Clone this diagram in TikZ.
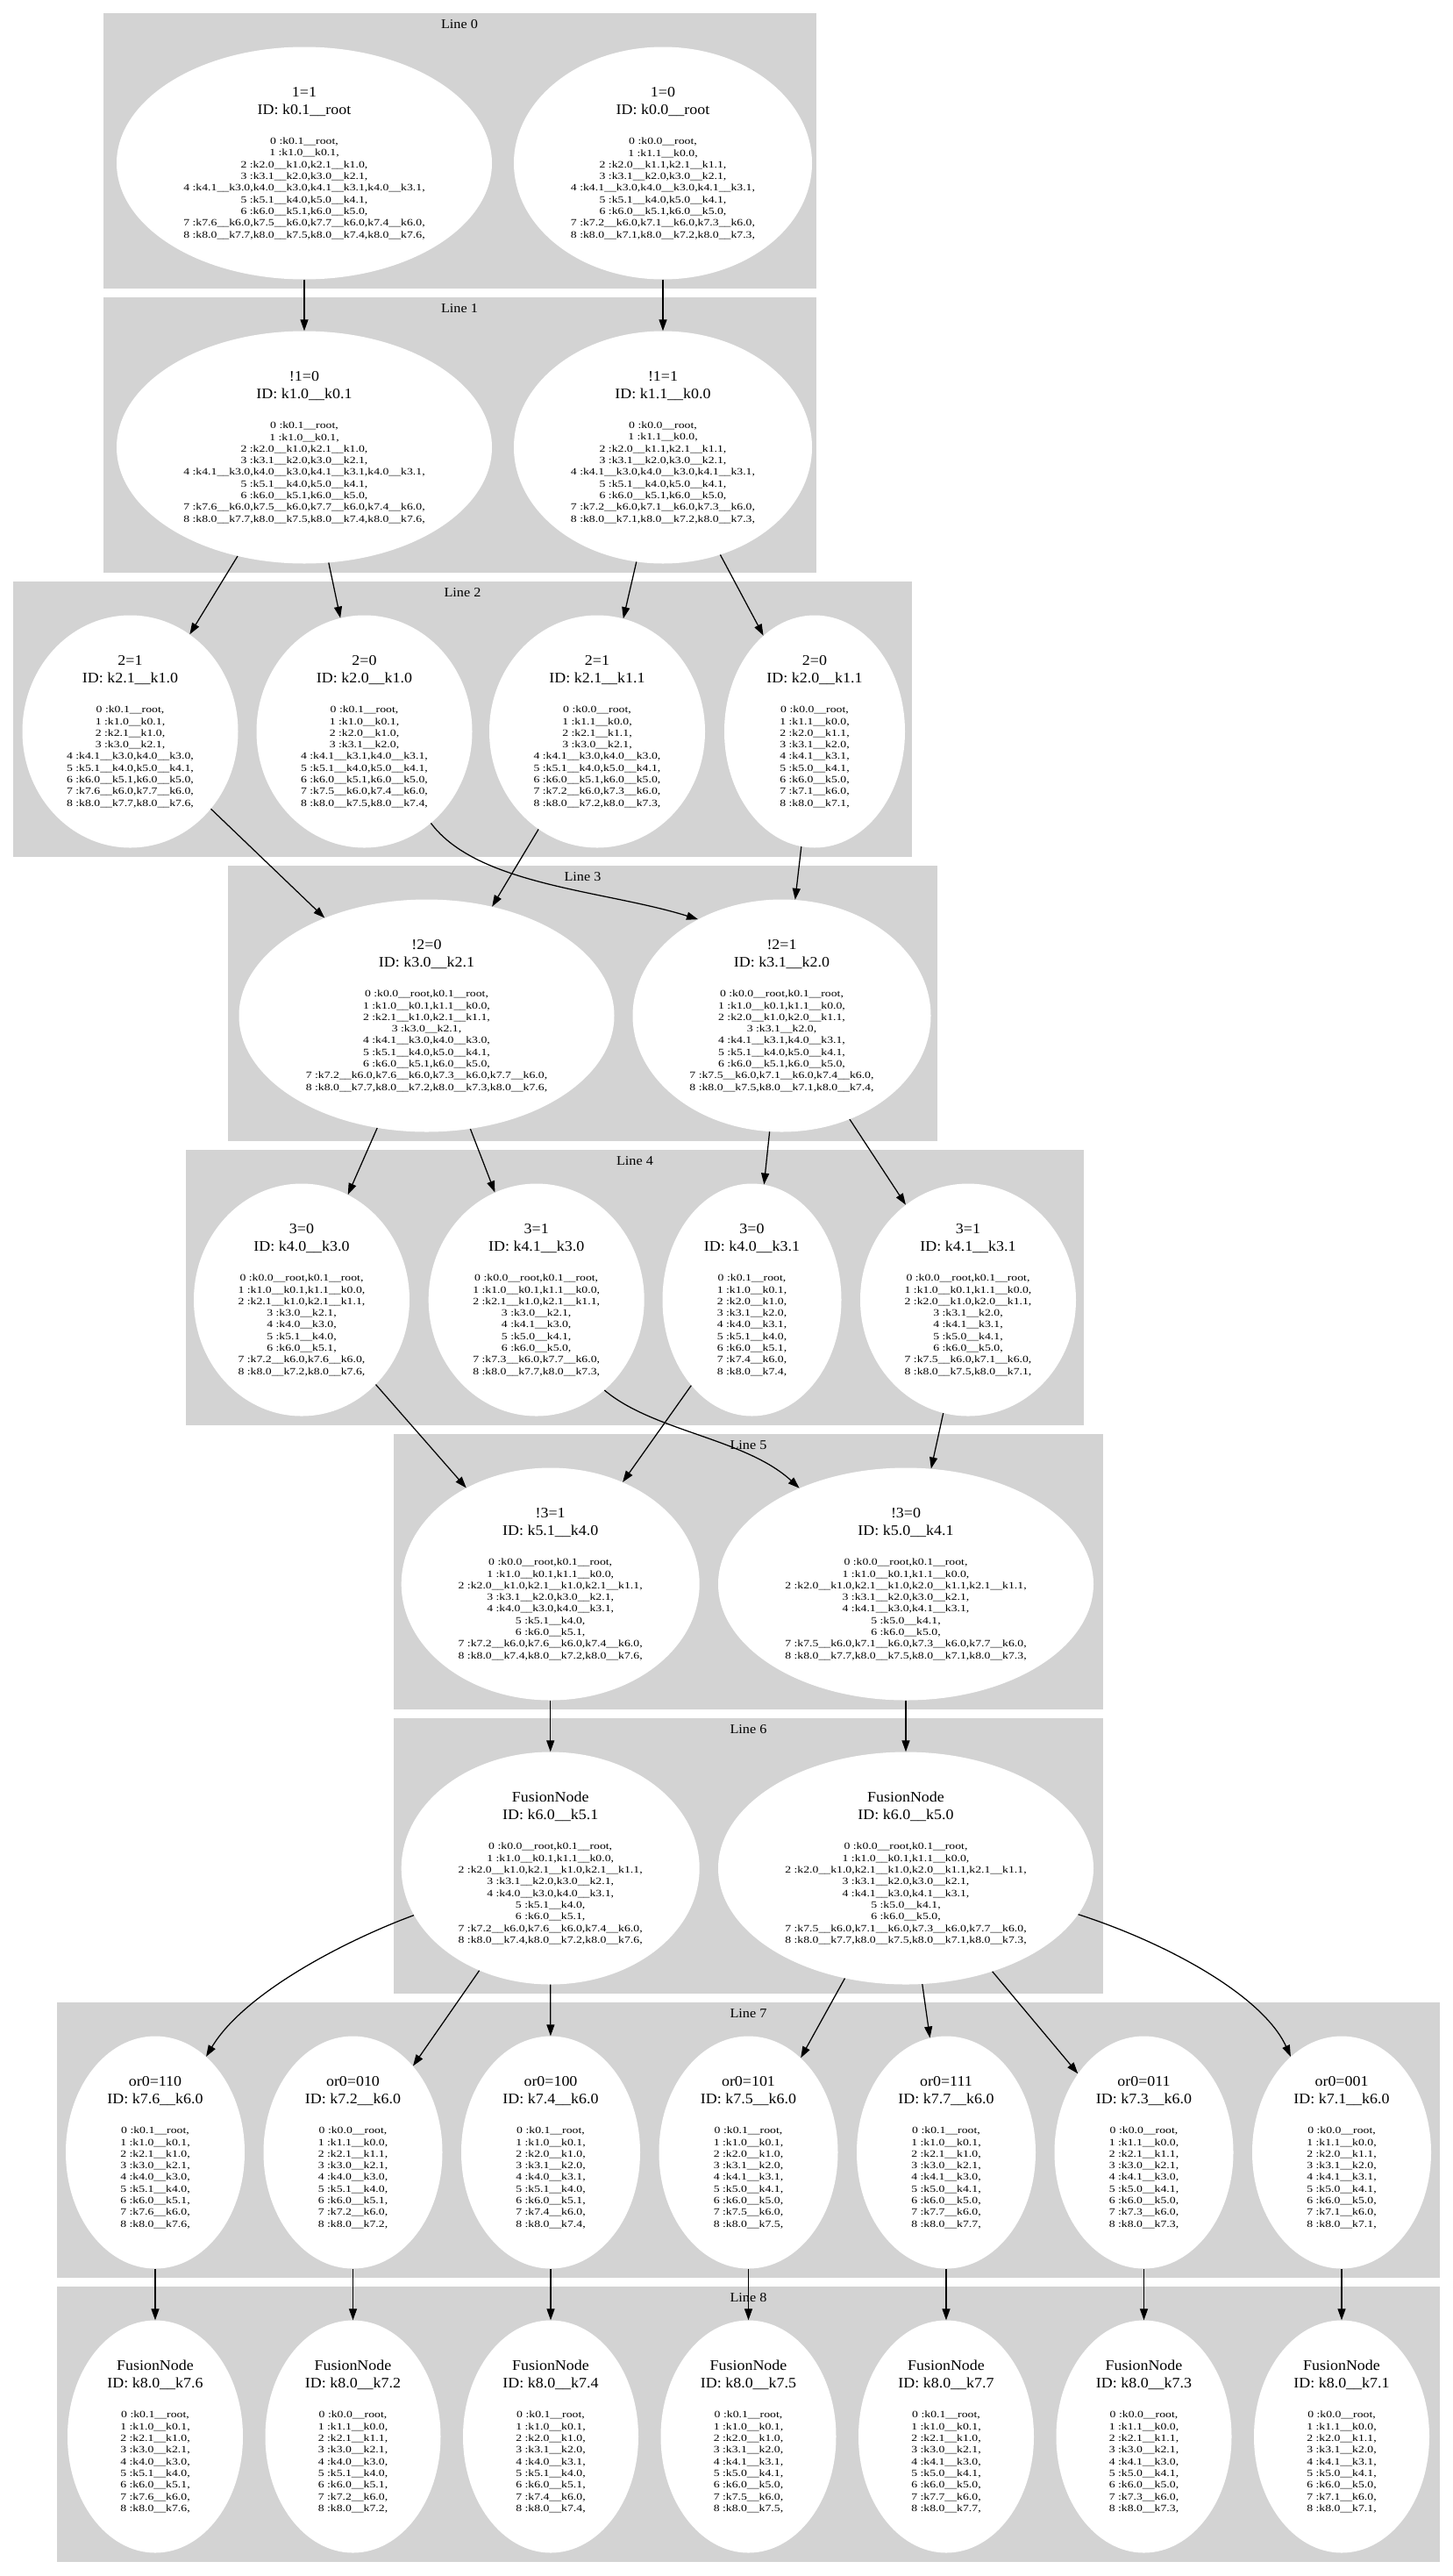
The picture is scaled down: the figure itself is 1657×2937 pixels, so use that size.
\documentclass[tikz,border=0pt]{standalone}
\usepackage{fontspec}
\setmainfont{Liberation Serif}
\newfontfamily\gvtitlefont[FakeStretch=1.08]{Liberation Serif}
\newfontfamily\gvbodyfont[FakeStretch=1.25]{Liberation Serif}
\usetikzlibrary{arrows.meta,shapes.geometric}
\definecolor{clgray}{HTML}{D3D3D3}
\newcommand\gvtitle{\gvtitlefont\fontsize{16.6}{20}\selectfont}
\newcommand\gvbody{\gvbodyfont\fontsize{11}{13.3}\selectfont\lineskiplimit=-100pt\relax}
\newcommand\gv[3]{{\gvtitle #1}\\[6.7pt]{\gvtitle #2}\\[21.2pt]#3}
\newcommand\BzA{0 :k0.1\_\_root,\\1 :k1.0\_\_k0.1,\\2 :k2.0\_\_k1.0,k2.1\_\_k1.0,\\3 :k3.1\_\_k2.0,k3.0\_\_k2.1,\\4 :k4.1\_\_k3.0,k4.0\_\_k3.0,k4.1\_\_k3.1,k4.0\_\_k3.1,\\5 :k5.1\_\_k4.0,k5.0\_\_k4.1,\\6 :k6.0\_\_k5.1,k6.0\_\_k5.0,\\7 :k7.6\_\_k6.0,k7.5\_\_k6.0,k7.7\_\_k6.0,k7.4\_\_k6.0,\\8 :k8.0\_\_k7.7,k8.0\_\_k7.5,k8.0\_\_k7.4,k8.0\_\_k7.6,}
\newcommand\BzB{0 :k0.0\_\_root,\\1 :k1.1\_\_k0.0,\\2 :k2.0\_\_k1.1,k2.1\_\_k1.1,\\3 :k3.1\_\_k2.0,k3.0\_\_k2.1,\\4 :k4.1\_\_k3.0,k4.0\_\_k3.0,k4.1\_\_k3.1,\\5 :k5.1\_\_k4.0,k5.0\_\_k4.1,\\6 :k6.0\_\_k5.1,k6.0\_\_k5.0,\\7 :k7.2\_\_k6.0,k7.1\_\_k6.0,k7.3\_\_k6.0,\\8 :k8.0\_\_k7.1,k8.0\_\_k7.2,k8.0\_\_k7.3,}
\newcommand\BfA{0 :k0.0\_\_root,k0.1\_\_root,\\1 :k1.0\_\_k0.1,k1.1\_\_k0.0,\\2 :k2.0\_\_k1.0,k2.1\_\_k1.0,k2.1\_\_k1.1,\\3 :k3.1\_\_k2.0,k3.0\_\_k2.1,\\4 :k4.0\_\_k3.0,k4.0\_\_k3.1,\\5 :k5.1\_\_k4.0,\\6 :k6.0\_\_k5.1,\\7 :k7.2\_\_k6.0,k7.6\_\_k6.0,k7.4\_\_k6.0,\\8 :k8.0\_\_k7.4,k8.0\_\_k7.2,k8.0\_\_k7.6,}
\newcommand\BfB{0 :k0.0\_\_root,k0.1\_\_root,\\1 :k1.0\_\_k0.1,k1.1\_\_k0.0,\\2 :k2.0\_\_k1.0,k2.1\_\_k1.0,k2.0\_\_k1.1,k2.1\_\_k1.1,\\3 :k3.1\_\_k2.0,k3.0\_\_k2.1,\\4 :k4.1\_\_k3.0,k4.1\_\_k3.1,\\5 :k5.0\_\_k4.1,\\6 :k6.0\_\_k5.0,\\7 :k7.5\_\_k6.0,k7.1\_\_k6.0,k7.3\_\_k6.0,k7.7\_\_k6.0,\\8 :k8.0\_\_k7.7,k8.0\_\_k7.5,k8.0\_\_k7.1,k8.0\_\_k7.3,}
\newcommand\BsA{0 :k0.1\_\_root,\\1 :k1.0\_\_k0.1,\\2 :k2.1\_\_k1.0,\\3 :k3.0\_\_k2.1,\\4 :k4.0\_\_k3.0,\\5 :k5.1\_\_k4.0,\\6 :k6.0\_\_k5.1,\\7 :k7.6\_\_k6.0,\\8 :k8.0\_\_k7.6,}
\newcommand\BsB{0 :k0.0\_\_root,\\1 :k1.1\_\_k0.0,\\2 :k2.1\_\_k1.1,\\3 :k3.0\_\_k2.1,\\4 :k4.0\_\_k3.0,\\5 :k5.1\_\_k4.0,\\6 :k6.0\_\_k5.1,\\7 :k7.2\_\_k6.0,\\8 :k8.0\_\_k7.2,}
\newcommand\BsC{0 :k0.1\_\_root,\\1 :k1.0\_\_k0.1,\\2 :k2.0\_\_k1.0,\\3 :k3.1\_\_k2.0,\\4 :k4.0\_\_k3.1,\\5 :k5.1\_\_k4.0,\\6 :k6.0\_\_k5.1,\\7 :k7.4\_\_k6.0,\\8 :k8.0\_\_k7.4,}
\newcommand\BsD{0 :k0.1\_\_root,\\1 :k1.0\_\_k0.1,\\2 :k2.0\_\_k1.0,\\3 :k3.1\_\_k2.0,\\4 :k4.1\_\_k3.1,\\5 :k5.0\_\_k4.1,\\6 :k6.0\_\_k5.0,\\7 :k7.5\_\_k6.0,\\8 :k8.0\_\_k7.5,}
\newcommand\BsE{0 :k0.1\_\_root,\\1 :k1.0\_\_k0.1,\\2 :k2.1\_\_k1.0,\\3 :k3.0\_\_k2.1,\\4 :k4.1\_\_k3.0,\\5 :k5.0\_\_k4.1,\\6 :k6.0\_\_k5.0,\\7 :k7.7\_\_k6.0,\\8 :k8.0\_\_k7.7,}
\newcommand\BsF{0 :k0.0\_\_root,\\1 :k1.1\_\_k0.0,\\2 :k2.1\_\_k1.1,\\3 :k3.0\_\_k2.1,\\4 :k4.1\_\_k3.0,\\5 :k5.0\_\_k4.1,\\6 :k6.0\_\_k5.0,\\7 :k7.3\_\_k6.0,\\8 :k8.0\_\_k7.3,}
\newcommand\BsG{0 :k0.0\_\_root,\\1 :k1.1\_\_k0.0,\\2 :k2.0\_\_k1.1,\\3 :k3.1\_\_k2.0,\\4 :k4.1\_\_k3.1,\\5 :k5.0\_\_k4.1,\\6 :k6.0\_\_k5.0,\\7 :k7.1\_\_k6.0,\\8 :k8.0\_\_k7.1,}
\tikzset{
  clus/.style={fill=clgray, draw=none},
  ell/.style={ellipse, fill=white, draw=none, minimum height=265pt, inner sep=0pt, align=center, font=\gvbody},
  wA/.style={minimum width=204pt},
  wAe/.style={minimum width=200pt},
  wAb/.style={minimum width=206pt},
  wB/.style={minimum width=246pt},
  wC/.style={minimum width=340pt},
  wD/.style={minimum width=428pt},
  gvedge/.style={-{Triangle[length=13pt,width=9pt]}, line width=1.25pt, black},
  lbl/.style={font=\gvtitlefont\fontsize{15}{18}\selectfont, inner sep=0pt}
}
\begin{document}
\begin{tikzpicture}[x=1pt,y=-1pt]
\useasboundingbox (0,0) rectangle (1657,2937);
\fill[white] (0,0) rectangle (1657,2937);
% clusters
\fill[clus] (118,15) rectangle (930.5,329);
\fill[clus] (118,339) rectangle (930.5,653);
\fill[clus] (15,663) rectangle (1040,977);
\fill[clus] (260,987) rectangle (1069,1301);
\fill[clus] (212,1311) rectangle (1236,1625);
\fill[clus] (449,1635) rectangle (1258,1949);
\fill[clus] (449,1959) rectangle (1258,2273);
\fill[clus] (65,2283) rectangle (1642,2597);
\fill[clus] (65,2607) rectangle (1642,2921);
% cluster labels
\node[lbl] (t0) at (524,28) {Line 0};
\node[lbl] (t1) at (524,352) {Line 1};
\node[lbl] (t2) at (527.5,676) {Line 2};
\node[lbl] (t3) at (664.5,1000) {Line 3};
\node[lbl] (t4) at (724,1324) {Line 4};
\node[lbl] (t5) at (853.5,1648) {Line 5};
\node[lbl] (t6) at (853.5,1972) {Line 6};
\node[lbl] (t7) at (853.5,2296) {Line 7};
\node[lbl] (t8) at (853.5,2620) {Line 8};
% Line 0
\node[ell,wD] (l0a) at (347,186) {\gv{1=1}{ID: k0.1\_\_root}{\BzA}};
\node[ell,wC] (l0b) at (756,186) {\gv{1=0}{ID: k0.0\_\_root}{\BzB}};
% Line 1
\node[ell,wD] (l1a) at (347,510) {\gv{!1=0}{ID: k1.0\_\_k0.1}{\BzA}};
\node[ell,wC] (l1b) at (756,510) {\gv{!1=1}{ID: k1.1\_\_k0.0}{\BzB}};
% Line 2
\node[ell,wB] (l2a) at (148.5,834) {\gv{2=1}{ID: k2.1\_\_k1.0}{0 :k0.1\_\_root,\\1 :k1.0\_\_k0.1,\\2 :k2.1\_\_k1.0,\\3 :k3.0\_\_k2.1,\\4 :k4.1\_\_k3.0,k4.0\_\_k3.0,\\5 :k5.1\_\_k4.0,k5.0\_\_k4.1,\\6 :k6.0\_\_k5.1,k6.0\_\_k5.0,\\7 :k7.6\_\_k6.0,k7.7\_\_k6.0,\\8 :k8.0\_\_k7.7,k8.0\_\_k7.6,}};
\node[ell,wB] (l2b) at (415.5,834) {\gv{2=0}{ID: k2.0\_\_k1.0}{0 :k0.1\_\_root,\\1 :k1.0\_\_k0.1,\\2 :k2.0\_\_k1.0,\\3 :k3.1\_\_k2.0,\\4 :k4.1\_\_k3.1,k4.0\_\_k3.1,\\5 :k5.1\_\_k4.0,k5.0\_\_k4.1,\\6 :k6.0\_\_k5.1,k6.0\_\_k5.0,\\7 :k7.5\_\_k6.0,k7.4\_\_k6.0,\\8 :k8.0\_\_k7.5,k8.0\_\_k7.4,}};
\node[ell,wB] (l2c) at (681,834) {\gv{2=1}{ID: k2.1\_\_k1.1}{0 :k0.0\_\_root,\\1 :k1.1\_\_k0.0,\\2 :k2.1\_\_k1.1,\\3 :k3.0\_\_k2.1,\\4 :k4.1\_\_k3.0,k4.0\_\_k3.0,\\5 :k5.1\_\_k4.0,k5.0\_\_k4.1,\\6 :k6.0\_\_k5.1,k6.0\_\_k5.0,\\7 :k7.2\_\_k6.0,k7.3\_\_k6.0,\\8 :k8.0\_\_k7.2,k8.0\_\_k7.3,}};
\node[ell,wAb] (l2d) at (929,834) {\gv{2=0}{ID: k2.0\_\_k1.1}{0 :k0.0\_\_root,\\1 :k1.1\_\_k0.0,\\2 :k2.0\_\_k1.1,\\3 :k3.1\_\_k2.0,\\4 :k4.1\_\_k3.1,\\5 :k5.0\_\_k4.1,\\6 :k6.0\_\_k5.0,\\7 :k7.1\_\_k6.0,\\8 :k8.0\_\_k7.1,}};
% Line 3
\node[ell,wD] (l3a) at (486.5,1158) {\gv{!2=0}{ID: k3.0\_\_k2.1}{0 :k0.0\_\_root,k0.1\_\_root,\\1 :k1.0\_\_k0.1,k1.1\_\_k0.0,\\2 :k2.1\_\_k1.0,k2.1\_\_k1.1,\\3 :k3.0\_\_k2.1,\\4 :k4.1\_\_k3.0,k4.0\_\_k3.0,\\5 :k5.1\_\_k4.0,k5.0\_\_k4.1,\\6 :k6.0\_\_k5.1,k6.0\_\_k5.0,\\7 :k7.2\_\_k6.0,k7.6\_\_k6.0,k7.3\_\_k6.0,k7.7\_\_k6.0,\\8 :k8.0\_\_k7.7,k8.0\_\_k7.2,k8.0\_\_k7.3,k8.0\_\_k7.6,}};
\node[ell,wC] (l3b) at (891.5,1158) {\gv{!2=1}{ID: k3.1\_\_k2.0}{0 :k0.0\_\_root,k0.1\_\_root,\\1 :k1.0\_\_k0.1,k1.1\_\_k0.0,\\2 :k2.0\_\_k1.0,k2.0\_\_k1.1,\\3 :k3.1\_\_k2.0,\\4 :k4.1\_\_k3.1,k4.0\_\_k3.1,\\5 :k5.1\_\_k4.0,k5.0\_\_k4.1,\\6 :k6.0\_\_k5.1,k6.0\_\_k5.0,\\7 :k7.5\_\_k6.0,k7.1\_\_k6.0,k7.4\_\_k6.0,\\8 :k8.0\_\_k7.5,k8.0\_\_k7.1,k8.0\_\_k7.4,}};
% Line 4
\node[ell,wB] (l4a) at (344,1482) {\gv{3=0}{ID: k4.0\_\_k3.0}{0 :k0.0\_\_root,k0.1\_\_root,\\1 :k1.0\_\_k0.1,k1.1\_\_k0.0,\\2 :k2.1\_\_k1.0,k2.1\_\_k1.1,\\3 :k3.0\_\_k2.1,\\4 :k4.0\_\_k3.0,\\5 :k5.1\_\_k4.0,\\6 :k6.0\_\_k5.1,\\7 :k7.2\_\_k6.0,k7.6\_\_k6.0,\\8 :k8.0\_\_k7.2,k8.0\_\_k7.6,}};
\node[ell,wB] (l4b) at (611.7,1482) {\gv{3=1}{ID: k4.1\_\_k3.0}{0 :k0.0\_\_root,k0.1\_\_root,\\1 :k1.0\_\_k0.1,k1.1\_\_k0.0,\\2 :k2.1\_\_k1.0,k2.1\_\_k1.1,\\3 :k3.0\_\_k2.1,\\4 :k4.1\_\_k3.0,\\5 :k5.0\_\_k4.1,\\6 :k6.0\_\_k5.0,\\7 :k7.3\_\_k6.0,k7.7\_\_k6.0,\\8 :k8.0\_\_k7.7,k8.0\_\_k7.3,}};
\node[ell,wA] (l4c) at (857.5,1482) {\gv{3=0}{ID: k4.0\_\_k3.1}{0 :k0.1\_\_root,\\1 :k1.0\_\_k0.1,\\2 :k2.0\_\_k1.0,\\3 :k3.1\_\_k2.0,\\4 :k4.0\_\_k3.1,\\5 :k5.1\_\_k4.0,\\6 :k6.0\_\_k5.1,\\7 :k7.4\_\_k6.0,\\8 :k8.0\_\_k7.4,}};
\node[ell,wB] (l4d) at (1104,1482) {\gv{3=1}{ID: k4.1\_\_k3.1}{0 :k0.0\_\_root,k0.1\_\_root,\\1 :k1.0\_\_k0.1,k1.1\_\_k0.0,\\2 :k2.0\_\_k1.0,k2.0\_\_k1.1,\\3 :k3.1\_\_k2.0,\\4 :k4.1\_\_k3.1,\\5 :k5.0\_\_k4.1,\\6 :k6.0\_\_k5.0,\\7 :k7.5\_\_k6.0,k7.1\_\_k6.0,\\8 :k8.0\_\_k7.5,k8.0\_\_k7.1,}};
% Line 5
\node[ell,wC] (l5a) at (627.7,1806) {\gv{!3=1}{ID: k5.1\_\_k4.0}{\BfA}};
\node[ell,wD] (l5b) at (1033,1806) {\gv{!3=0}{ID: k5.0\_\_k4.1}{\BfB}};
% Line 6
\node[ell,wC] (l6a) at (627.7,2130) {\gv{FusionNode}{ID: k6.0\_\_k5.1}{\BfA}};
\node[ell,wD] (l6b) at (1033,2130) {\gv{FusionNode}{ID: k6.0\_\_k5.0}{\BfB}};
% Line 7
\node[ell,wA] (l7a) at (177,2454) {\gv{or0=110}{ID: k7.6\_\_k6.0}{\BsA}};
\node[ell,wA] (l7b) at (402.5,2454) {\gv{or0=010}{ID: k7.2\_\_k6.0}{\BsB}};
\node[ell,wA] (l7c) at (628,2454) {\gv{or0=100}{ID: k7.4\_\_k6.0}{\BsC}};
\node[ell,wA] (l7d) at (853.5,2454) {\gv{or0=101}{ID: k7.5\_\_k6.0}{\BsD}};
\node[ell,wA] (l7e) at (1079,2454) {\gv{or0=111}{ID: k7.7\_\_k6.0}{\BsE}};
\node[ell,wA] (l7f) at (1304.5,2454) {\gv{or0=011}{ID: k7.3\_\_k6.0}{\BsF}};
\node[ell,wA] (l7g) at (1530,2454) {\gv{or0=001}{ID: k7.1\_\_k6.0}{\BsG}};
% Line 8
\node[ell,wAe] (l8a) at (177,2778) {\gv{FusionNode}{ID: k8.0\_\_k7.6}{\BsA}};
\node[ell,wAe] (l8b) at (402.5,2778) {\gv{FusionNode}{ID: k8.0\_\_k7.2}{\BsB}};
\node[ell,wAe] (l8c) at (628,2778) {\gv{FusionNode}{ID: k8.0\_\_k7.4}{\BsC}};
\node[ell,wAe] (l8d) at (853.5,2778) {\gv{FusionNode}{ID: k8.0\_\_k7.5}{\BsD}};
\node[ell,wAe] (l8e) at (1079,2778) {\gv{FusionNode}{ID: k8.0\_\_k7.7}{\BsE}};
\node[ell,wAe] (l8f) at (1304.5,2778) {\gv{FusionNode}{ID: k8.0\_\_k7.3}{\BsF}};
\node[ell,wAe] (l8g) at (1530,2778) {\gv{FusionNode}{ID: k8.0\_\_k7.1}{\BsG}};
% edges
\draw[gvedge] (l0a) -- (l1a);
\draw[gvedge] (l0b) -- (l1b);
\draw[gvedge] (l1a) -- (l2a);
\draw[gvedge] (l1a) -- (l2b);
\draw[gvedge] (l1b) -- (l2c);
\draw[gvedge] (l1b) -- (l2d);
\draw[gvedge] (l2a) -- (l3a);
\draw[gvedge] (l2c) -- (l3a);
\draw[gvedge] (l2b.-54) .. controls (545,1010) and (690,1015) .. (l3b.131);
\draw[gvedge] (l2d) -- (l3b);
\draw[gvedge] (l3a) -- (l4a);
\draw[gvedge] (l3a) -- (l4b);
\draw[gvedge] (l3b) -- (l4c);
\draw[gvedge] (l3b) -- (l4d);
\draw[gvedge] (l4a) -- (l5a);
\draw[gvedge] (l4c) -- (l5a);
\draw[gvedge] (l4b.-53) .. controls (745,1632) and (850,1640) .. (l5b.138);
\draw[gvedge] (l4d) -- (l5b);
\draw[gvedge] (l5a) -- (l6a);
\draw[gvedge] (l5b) -- (l6b);
\draw[gvedge] (l6a.199) .. controls (400,2210) and (280,2270) .. (l7a.62);
\draw[gvedge] (l6a) -- (l7b);
\draw[gvedge] (l6a) -- (l7c);
\draw[gvedge] (l6b) -- (l7d);
\draw[gvedge] (l6b) -- (l7e);
\draw[gvedge] (l6b) -- (l7f);
\draw[gvedge] (l6b.-15) .. controls (1330,2215) and (1440,2275) .. (l7g.118);
\draw[gvedge] (l7a) -- (l8a);
\draw[gvedge] (l7b) -- (l8b);
\draw[gvedge] (l7c) -- (l8c);
\draw[gvedge] (l7d) -- (l8d);
\draw[gvedge] (l7e) -- (l8e);
\draw[gvedge] (l7f) -- (l8f);
\draw[gvedge] (l7g) -- (l8g);
\end{tikzpicture}
\end{document}
